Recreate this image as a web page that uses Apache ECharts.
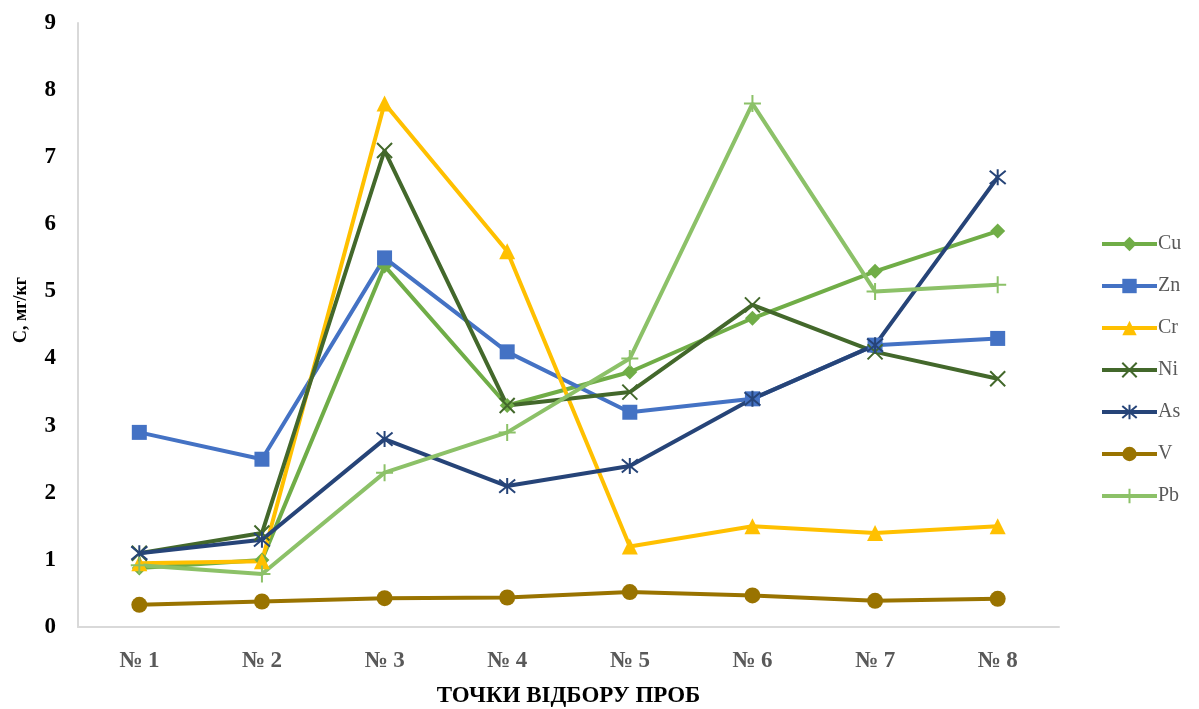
<!DOCTYPE html>
<html>
<head>
<meta charset="utf-8">
<script src="https://cdn.jsdelivr.net/npm/echarts@6/dist/echarts.min.js"></script>
<style>
  html, body { margin: 0; padding: 0; background: #fff; }
  #chart { width: 1199px; height: 709px; }
</style>
</head>
<body>
<div id="chart"></div>
<script>
// Sampling points
const categories = ['№ 1', '№ 2', '№ 3', '№ 4', '№ 5', '№ 6', '№ 7', '№ 8'];

// Concentrations, mg/kg
const cu = [0.88, 1.0, 5.38, 3.3, 3.8, 4.6, 5.3, 5.9];
const zn = [2.9, 2.5, 5.5, 4.1, 3.2, 3.4, 4.2, 4.3];
const cr = [0.95, 0.98, 7.8, 5.6, 1.2, 1.5, 1.4, 1.5];
const ni = [1.1, 1.4, 7.1, 3.3, 3.5, 4.8, 4.1, 3.7];
const as = [1.1, 1.3, 2.8, 2.1, 2.4, 3.4, 4.2, 6.7];
const v  = [0.33, 0.38, 0.43, 0.44, 0.52, 0.47, 0.39, 0.42];
const pb = [0.92, 0.79, 2.3, 2.9, 4.0, 7.8, 5.0, 5.1];

const yTicks = [0, 1, 2, 3, 4, 5, 6, 7, 8, 9];

const FONT = '"Liberation Serif", "Times New Roman", serif';

// Stroked marker shapes
const CROSS_X = 'path://M0,0 L10,10 M10,0 L0,10';
const STAR = 'path://M0,0 L10,10 M10,0 L0,10 M5,-1 L5,11';
const PLUS = 'path://M5,0 L5,10 M0,5 L10,5';

function makeSeries(name, data, color, symbol, size, stroked) {
  return {
    name: name,
    type: 'line',
    data: data,
    symbol: symbol,
    symbolSize: size,
    lineStyle: { color: color, width: 4 },
    itemStyle: stroked
      ? { color: color, borderColor: color, borderWidth: 2 }
      : { color: color, borderWidth: 0 },
    emphasis: { disabled: true },
    animation: false
  };
}

const chart = echarts.init(document.getElementById('chart'), null, { renderer: 'canvas' });

chart.setOption({
  backgroundColor: '#ffffff',
  animation: false,
  grid: { left: 78, right: 140, top: 23, bottom: 82, outerBoundsMode: 'none', containLabel: false },
  legend: {
    orient: 'vertical',
    left: 1100,
    top: 234,
    padding: 0,
    itemWidth: 55,
    itemHeight: 18,
    itemGap: 22,
    lineStyle: { width: 4 },
    textStyle: { fontFamily: FONT, fontSize: 20, color: '#595959', padding: [0, 0, 0, -4] },
    data: ['Cu', 'Zn', 'Cr', 'Ni', 'As', 'V', 'Pb']
  },
  xAxis: {
    type: 'category',
    data: categories,
    boundaryGap: true,
    name: 'ТОЧКИ ВІДБОРУ ПРОБ',
    nameLocation: 'middle',
    nameGap: 58,
    nameTextStyle: { fontFamily: FONT, fontSize: 23, fontWeight: 'bold', color: '#000' },
    axisLine: { lineStyle: { color: '#d9d9d9', width: 2 } },
    axisTick: { show: false },
    axisLabel: { fontFamily: FONT, fontSize: 23, fontWeight: 'bold', color: '#595959', margin: 23 },
    splitLine: { show: false }
  },
  yAxis: {
    type: 'value',
    min: yTicks[0],
    max: yTicks[yTicks.length - 1],
    interval: 1,
    name: 'С, мг/кг',
    nameLocation: 'middle',
    nameGap: 48,
    nameRotate: 90,
    nameTextStyle: { fontFamily: FONT, fontSize: 18, fontWeight: 'bold', color: '#000', padding: [0, 0, 0, 30] },
    axisLine: { show: true, lineStyle: { color: '#d9d9d9', width: 2 } },
    axisTick: { show: false },
    axisLabel: { fontFamily: FONT, fontSize: 23, fontWeight: 'bold', color: '#000', margin: 22 },
    splitLine: { show: false }
  },
  series: [
    makeSeries('Cu', cu, '#70AD47', 'diamond', 15, false),
    makeSeries('Zn', zn, '#4472C4', 'rect', 15, false),
    makeSeries('Cr', cr, '#FFC000', 'triangle', 16, false),
    makeSeries('Ni', ni, '#43682B', CROSS_X, 15, true),
    makeSeries('As', as, '#264478', STAR, 16, true),
    makeSeries('V', v, '#997300', 'circle', 16, false),
    makeSeries('Pb', pb, '#8CC168', PLUS, 17, true)
  ]
});
</script>
</body>
</html>
